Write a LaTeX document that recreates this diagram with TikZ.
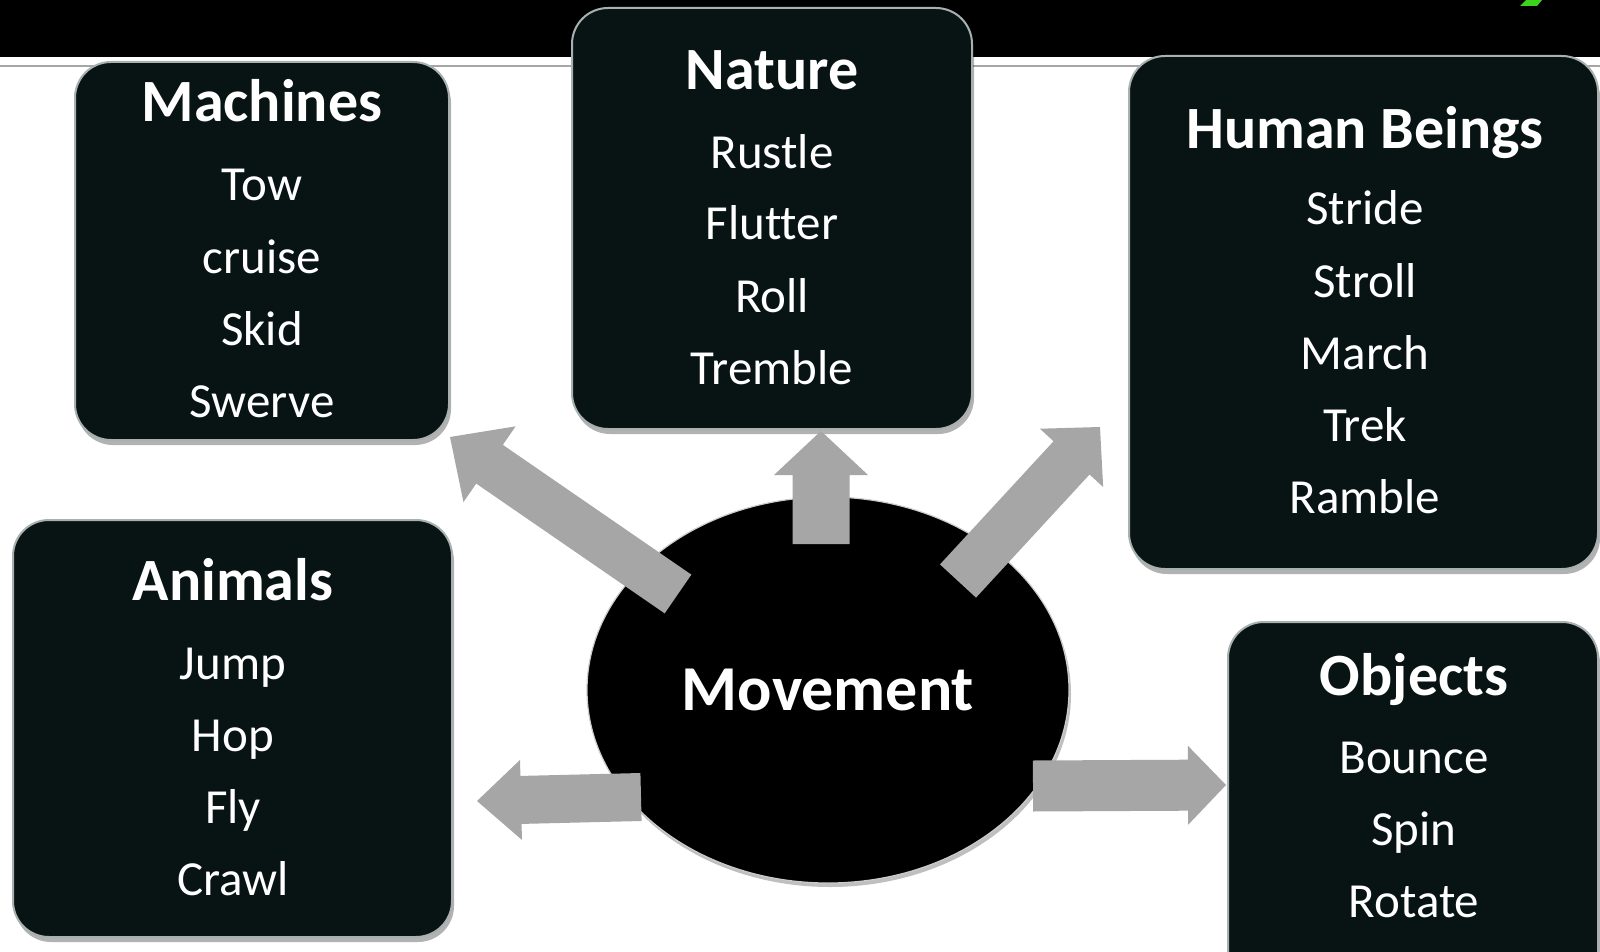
\documentclass[tikz,border=0pt]{standalone}
\usepackage{fontspec}
\setmainfont[Ligatures=NoCommon]{Carlito}
\usetikzlibrary{calc,shadows,shapes.geometric}
\definecolor{boxfill}{HTML}{081414}
\definecolor{boxline}{HTML}{A9B0B0}
\definecolor{arrowgray}{HTML}{A6A6A6}
\definecolor{markgreen}{HTML}{3CD21E}
\newcommand\blockarrow[6]{% name, tail, tip, half shaft, half head, head length
  \coordinate (#1b) at ($(#3)!#6!(#2)$);
  \fill[arrowgray] ($(#2)!#4!90:(#3)$) -- ($(#1b)!#4!90:(#3)$) -- ($(#1b)!#5!90:(#3)$)
    -- (#3) -- ($(#1b)!#5!-90:(#3)$) -- ($(#1b)!#4!-90:(#3)$) -- ($(#2)!#4!-90:(#3)$) -- cycle;
}
\tikzset{
  catbox/.style={draw=boxline, line width=1pt, fill=boxfill, rounded corners=18pt,
    inner sep=0pt, drop shadow={shadow xshift=1pt, shadow yshift=-2.5pt, opacity=0.3, fill=black}},
  cattitle/.style={text=white, anchor=base, inner sep=0pt, font=\fontsize{30}{36}\selectfont\bfseries},
  catitem/.style={text=white, anchor=base, inner sep=0pt, font=\fontsize{24.5}{30}\selectfont},
}
\begin{document}
\begin{tikzpicture}[x=0.5pt, y=-0.5pt]
\fill[white] (0,0) rectangle (1600,952);
\useasboundingbox (0,0) rectangle (1600,952);
% top bar
\fill[black] (0,0) rectangle (1600,57);
\draw[gray!70, line width=1pt] (0,66) -- (1600,66);
\fill[markgreen] (1520,6) -- (1526,0) -- (1542,0) -- (1537,6) -- cycle;

% central ellipse
\node[ellipse, fill=black, draw=gray!40, line width=0.6pt, minimum width=241pt, minimum height=193pt,
  inner sep=0pt, text=white, font=\fontsize{32}{38}\selectfont\bfseries,
  drop shadow={shadow xshift=1pt, shadow yshift=-2pt, opacity=0.25, fill=black}] (move) at (828,690) {Movement};

% boxes
\node[catbox, minimum width=187pt, minimum height=189pt] (mach) at (262,251) {};
\node[catbox, minimum width=200pt, minimum height=210.5pt] (nat) at (772,218.5) {};
\node[catbox, minimum width=234.5pt, minimum height=256.5pt] (hum) at (1363.5,312.5) {};
\node[catbox, minimum width=219.5pt, minimum height=208.5pt] (ani) at (232.5,728.5) {};
\node[catbox, minimum width=185pt, minimum height=189pt] (obj) at (1413,811) {};

% Machines
\node[cattitle] (machT) at (262,122) {Machines};
\node[catitem] (mach1) at (262,201) {Tow};
\node[catitem] (mach2) at (262,273) {cruise};
\node[catitem] (mach3) at (262,345) {Skid};
\node[catitem] (mach4) at (262,417) {Swerve};
% Nature
\node[cattitle] (natT) at (772,90) {Nature};
\node[catitem] (nat1) at (772,169) {Rustle};
\node[catitem] (nat2) at (772,240) {Flutter};
\node[catitem] (nat3) at (772,312) {Roll};
\node[catitem] (nat4) at (772,384) {Tremble};
% Human Beings
\node[cattitle] (humT) at (1365,149) {Human Beings};
\node[catitem] (hum1) at (1365,225) {Stride};
\node[catitem] (hum2) at (1365,297) {Stroll};
\node[catitem] (hum3) at (1365,369) {March};
\node[catitem] (hum4) at (1365,441) {Trek};
\node[catitem] (hum5) at (1365,513) {Ramble};
% Animals
\node[cattitle] (aniT) at (233,600) {Animals};
\node[catitem] (ani1) at (233,679) {Jump};
\node[catitem] (ani2) at (233,751) {Hop};
\node[catitem] (ani3) at (233,823) {Fly};
\node[catitem] (ani4) at (233,895) {Crawl};
% Objects
\node[cattitle] (objT) at (1414,695) {Objects};
\node[catitem] (obj1) at (1414,773) {Bounce};
\node[catitem] (obj2) at (1414,845) {Spin};
\node[catitem] (obj3) at (1414,917) {Rotate};

% arrows
\coordinate (nwT) at (678,594);  \coordinate (nwP) at (450,437);
\coordinate (upT) at (821,544);  \coordinate (upP) at (821,431);
\coordinate (neT) at (958,581);  \coordinate (neP) at (1100,427);
\coordinate (wT) at (641,797);   \coordinate (wP) at (477,801);
\coordinate (eT) at (1033,786);  \coordinate (eP) at (1226,785);
\blockarrow{nw}{nwT}{nwP}{11.75pt}{23pt}{24pt}
\blockarrow{up}{upT}{upP}{14.25pt}{23.5pt}{22pt}
\blockarrow{ne}{neT}{neP}{12.25pt}{21.5pt}{21pt}
\blockarrow{w}{wT}{wP}{12pt}{20pt}{22pt}
\blockarrow{e}{eT}{eP}{12.75pt}{19.75pt}{19pt}
\end{tikzpicture}
\end{document}
